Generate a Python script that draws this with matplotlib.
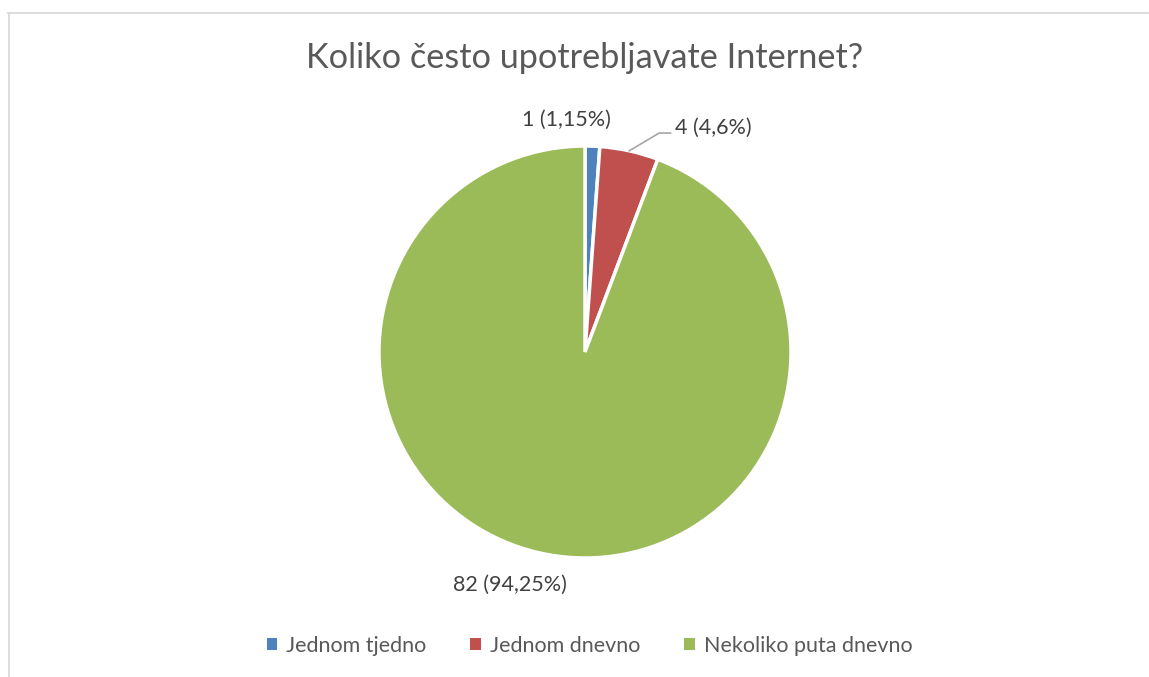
import matplotlib
matplotlib.use("Agg")
import matplotlib.pyplot as plt
import numpy as np
from matplotlib.lines import Line2D
from matplotlib.patches import Patch

categories = ["Jednom tjedno", "Jednom dnevno", "Nekoliko puta dnevno"]
values = [1, 4, 82]
pct_labels = ["1 (1,15%)", "4 (4,6%)", "82 (94,25%)"]
colors = ["#4F81BD", "#C0504D", "#9BBB59"]
title = "Koliko često upotrebljavate Internet?"

plt.rcParams['font.family'] = ['Lato', 'DejaVu Sans']
W, H = 1149, 677
fig = plt.figure(figsize=(W / 100, H / 100), dpi=100)
cx, cy, R = 585, 352, 206
ax = fig.add_axes([0, 0, 1, 1])
ax.set_aspect('equal')
ax.axis('off')

wedges, _ = ax.pie(values, colors=colors, startangle=90, counterclock=False,
                   radius=1, center=(0, 0),
                   wedgeprops=dict(edgecolor='white', linewidth=2.5))
ax.set_xlim(-cx / R, (W - cx) / R)
ax.set_ylim(-(H - cy) / R, cy / R)

txtc = '#404040'
lab_fs = 15.5
lab_pos = [(-0.09, 1.126), (0.435, 1.087), (-0.365, -1.13)]
for i, (w, lab) in enumerate(zip(wedges, pct_labels)):
    x, y = lab_pos[i]
    if i == 1:
        ang = np.deg2rad((w.theta1 + w.theta2) / 2)
        x0, y0 = np.cos(ang) * 1.0, np.sin(ang) * 1.0
        ax.plot([x0, 0.36, 0.415], [y0, 1.063, 1.063], color='#A6A6A6', lw=1.2)
        ax.text(x, y, lab, ha='left', va='center', fontsize=lab_fs, color=txtc)
    else:
        ax.text(x, y, lab, ha='center', va='center', fontsize=lab_fs, color=txtc)

fig.text(0.509, 1 - 58 / H, title, ha='center', va='center', fontsize=24.7, color='#595959')

handles = [Patch(facecolor=c, edgecolor='none') for c in colors]
leg = fig.legend(handles, categories, loc='center', bbox_to_anchor=(0.513, 1 - 646 / H),
                 ncol=3, frameon=False, fontsize=15.5, handlelength=0.5, handleheight=0.5,
                 handletextpad=0.4, columnspacing=2.05, labelcolor='#595959')

fig.add_artist(Line2D([8.5 / W, 8.5 / W], [0, 1 - 12.5 / H], color='#D9D9D9', lw=1.3))
fig.add_artist(Line2D([8 / W, 1148 / W], [1 - 12.5 / H, 1 - 12.5 / H], color='#D9D9D9', lw=1.3))

fig.savefig("out.png", dpi=100)
